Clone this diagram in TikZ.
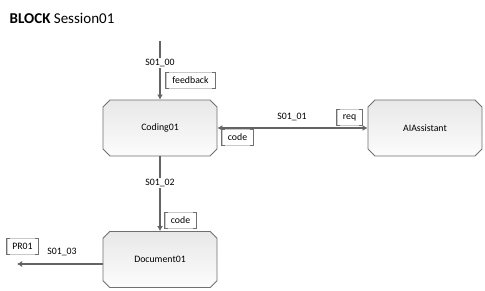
\documentclass[tikz,border=0pt]{standalone}
\usepackage{fontspec}
\setmainfont{Carlito}
\usetikzlibrary{shapes.misc,arrows.meta}
\definecolor{edgegray}{RGB}{112,112,112}
\definecolor{linegray}{RGB}{100,100,100}
\definecolor{tagtop}{RGB}{200,200,200}
\definecolor{blocktop}{RGB}{232,232,232}
\definecolor{blockbot}{RGB}{252,252,252}
\tikzset{
  blockbox/.style={chamfered rectangle, chamfered rectangle xsep=3.5pt, chamfered rectangle ysep=3.5pt,
    draw=edgegray, line width=0.9pt, top color=blocktop, bottom color=blockbot,
    minimum width=114pt, minimum height=56pt, inner sep=0pt, font=\fontsize{9.8}{11}\selectfont},
  flow/.style={draw=linegray, line width=1.2pt, -{Latex[length=5pt,width=6pt]}},
  flowboth/.style={draw=linegray, line width=1.2pt, {Latex[length=5pt,width=6pt]}-{Latex[length=5pt,width=6pt]}},
  flowlabel/.style={font=\fontsize{9.8}{11}\selectfont, inner sep=1pt},
  tagbox/.style={draw=tagtop, line width=0.5pt, fill=white, minimum height=16pt, inner sep=0pt,
    font=\fontsize{9.8}{11}\selectfont},
  brk/.style={draw=edgegray, line width=0.9pt}
}
\newcommand\tagbrackets[1]{%
  \draw[brk] ([xshift=3pt]#1.north west) -- (#1.north west) -- (#1.south west) -- ([xshift=3pt]#1.south west);
  \draw[brk] ([xshift=-3pt]#1.north east) -- (#1.north east) -- (#1.south east) -- ([xshift=-3pt]#1.south east);}
\begin{document}
\begin{tikzpicture}[x=1pt,y=-1pt]
\useasboundingbox[fill=white] (0,0) rectangle (485,291);
\node[anchor=west, font=\fontsize{15}{17}\selectfont, inner sep=0pt] (title) at (9.5,18) {\textbf{BLOCK} Session01};

\node[blockbox] (coding) at (160,128) {Coding01};
\node[blockbox] (ai) at (425,128) {AIAssistant};
\node[blockbox] (doc) at (160,259.5) {Document01};

\coordinate (src) at (160,41);
\coordinate (pr) at (17,264);

\draw[flow] (src) -- (coding.north);
\draw[flowboth] (coding.east) -- (ai.west);
\draw[flow] (coding.south) -- (doc.north);
\draw[flow] (doc.west |- pr) -- (pr);

\node[flowlabel, fill=white] (l00) at (160,63) {S01\_00};
\node[flowlabel] (l01) at (292,117) {S01\_01};
\node[flowlabel, fill=white] (l02) at (160,183) {S01\_02};
\node[flowlabel] (l03) at (62,252) {S01\_03};

\node[tagbox, minimum width=49pt] (tfeed) at (190.5,80.5) {feedback};
\node[tagbox, minimum width=25pt] (treq) at (349.5,117.5) {req};
\node[tagbox, minimum width=31pt] (tcode1) at (237.5,137.5) {code};
\node[tagbox, minimum width=31pt] (tcode2) at (180.5,220.5) {code};
\node[tagbox, minimum width=31pt] (tpr) at (22.5,246.5) {PR01};
\tagbrackets{tfeed}
\tagbrackets{treq}
\tagbrackets{tcode1}
\tagbrackets{tcode2}
\tagbrackets{tpr}
\end{tikzpicture}
\end{document}
